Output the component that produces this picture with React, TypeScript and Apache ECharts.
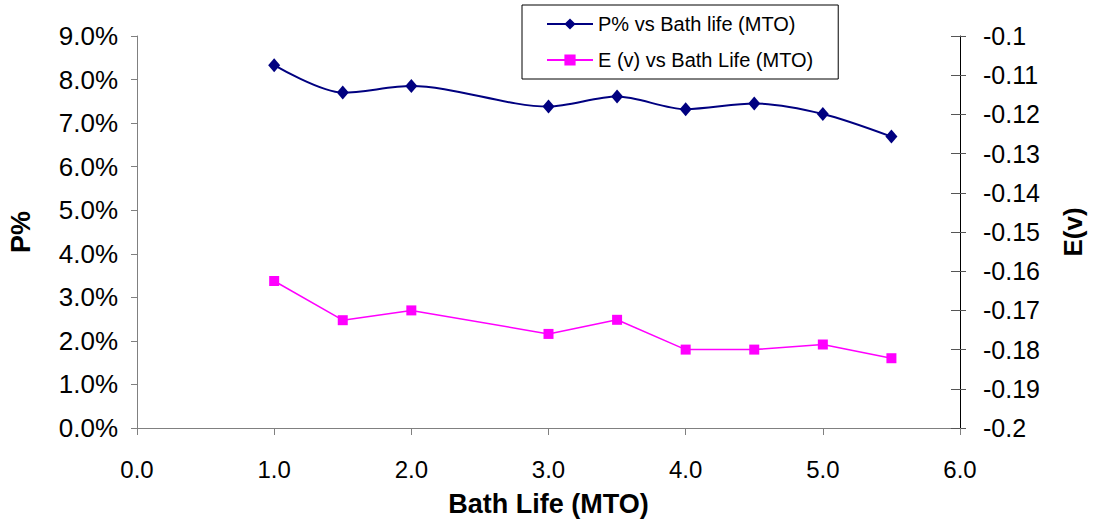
import React, { useEffect, useRef } from "react";
import * as echarts from "echarts";

const bathLife = [1.0, 1.5, 2.0, 3.0, 3.5, 4.0, 4.5, 5.0, 5.5];
const pPercent = [8.33, 7.7, 7.85, 7.38, 7.61, 7.32, 7.45, 7.21, 6.69];
const eVolts = [-0.1625, -0.1725, -0.17, -0.176, -0.1724, -0.18, -0.18, -0.1787, -0.1822];
const seriesNames = ["P% vs Bath life (MTO)", "E (v) vs Bath Life (MTO)"];

const FONT = "Liberation Sans, Arial, sans-serif";

export default function App() {
  const ref = useRef<HTMLDivElement>(null);
  useEffect(() => {
    if (!ref.current) return;
    const chart = echarts.init(ref.current, null, { renderer: "svg" });
    chart.setOption({
      animation: false,
      backgroundColor: "#ffffff",
      textStyle: { fontFamily: FONT },
      grid: {
        left: 137,
        right: 133,
        top: 36,
        bottom: 93,
        containLabel: false,
        outerBoundsMode: "none",
      },
      legend: {
        orient: "vertical",
        left: 522,
        top: 5,
        padding: [8, 25, 8, 24],
        itemGap: 14,
        itemWidth: 46,
        itemHeight: 14,
        borderColor: "#000",
        borderWidth: 1,
        textStyle: { fontFamily: FONT, fontSize: 20, lineHeight: 22, color: "#000" },
        data: seriesNames,
      },
      xAxis: {
        type: "value",
        min: 0,
        max: 6,
        interval: 1,
        name: "Bath Life (MTO)",
        nameLocation: "middle",
        nameGap: 62,
        nameTextStyle: { fontFamily: FONT, fontSize: 27, fontWeight: "bold", color: "#000" },
        axisLine: { show: true, lineStyle: { color: "#808080", width: 1 } },
        axisTick: { show: true, length: 7, lineStyle: { color: "#808080" } },
        splitLine: { show: false },
        axisLabel: {
          fontFamily: FONT,
          fontSize: 24,
          color: "#000",
          margin: 29,
          formatter: (v: number) => v.toFixed(1),
        },
      },
      yAxis: [
        {
          type: "value",
          position: "left",
          min: 0,
          max: 9,
          interval: 1,
          name: "P%",
          nameLocation: "middle",
          nameRotate: 90,
          nameGap: 103,
          nameTextStyle: { fontFamily: FONT, fontSize: 27, fontWeight: "bold", color: "#000" },
          axisLine: { show: true, lineStyle: { color: "#808080", width: 1 } },
          axisTick: { show: true, length: 6, lineStyle: { color: "#808080" } },
          splitLine: { show: false },
          axisLabel: {
            fontFamily: FONT,
            fontSize: 26,
            color: "#000",
            margin: 19,
            formatter: (v: number) => v.toFixed(1) + "%",
          },
        },
        {
          type: "value",
          position: "right",
          min: -0.2,
          max: -0.1,
          interval: 0.01,
          name: "E(v)",
          nameLocation: "middle",
          nameRotate: 90,
          nameGap: 100,
          nameTextStyle: { fontFamily: FONT, fontSize: 26, fontWeight: "bold", color: "#000" },
          axisLine: { show: true, lineStyle: { color: "#000", width: 1 } },
          axisTick: { show: true, length: 6, lineStyle: { color: "#555" } },
          splitLine: { show: false },
          axisLabel: {
            fontFamily: FONT,
            fontSize: 25,
            color: "#000",
            margin: 23,
            formatter: (v: number) => String(parseFloat(v.toFixed(2))),
          },
        },
        {
          type: "value",
          position: "right",
          min: -0.2,
          max: -0.1,
          interval: 0.01,
          axisLine: { show: false },
          axisTick: { show: true, inside: true, length: 9, lineStyle: { color: "#555" } },
          axisLabel: { show: false },
          splitLine: { show: false },
        },
      ],
      series: [
        {
          name: seriesNames[0],
          type: "line",
          yAxisIndex: 0,
          smooth: 0.3,
          symbol: "diamond",
          symbolSize: [12, 14],
          itemStyle: { color: "#000080" },
          lineStyle: { color: "#000080", width: 2 },
          data: bathLife.map((x, i) => [x, pPercent[i]]),
        },
        {
          name: seriesNames[1],
          type: "line",
          yAxisIndex: 1,
          symbol: "rect",
          symbolSize: 10,
          itemStyle: { color: "#ff00ff" },
          lineStyle: { color: "#ff00ff", width: 1.5 },
          data: bathLife.map((x, i) => [x, eVolts[i]]),
        },
      ],
    });
    return () => chart.dispose();
  }, []);
  return (
    <div
      ref={ref}
      style={{ position: "fixed", left: 0, top: 0, width: 1093, height: 521, background: "#fff" }}
    />
  );
}
